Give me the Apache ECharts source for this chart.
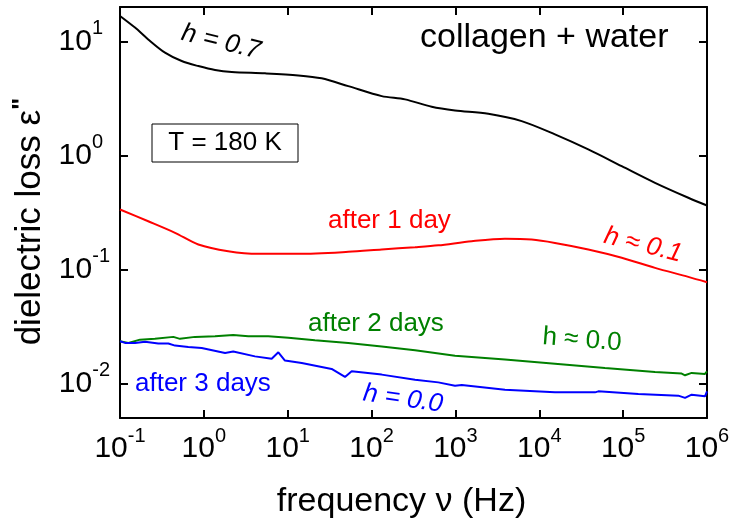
<!DOCTYPE html>
<html><head><meta charset="utf-8">
<script src="https://cdn.jsdelivr.net/npm/echarts@6/dist/echarts.min.js"></script>
<style>html,body{margin:0;padding:0;background:#fff}#c{width:733px;height:526px}</style>
</head><body><div id="c"></div>
<script>
const FONT = '"Liberation Sans", Arial, Helvetica, sans-serif';

// ---- data (frequency in Hz, dielectric loss) ----
const freqBlack = [0.1, 0.151, 0.217, 0.344, 0.544, 0.859, 1.36, 2.15, 5.36, 13.4, 25.4, 52.7, 132, 251, 521, 989, 2466, 6166, 15380, 38370, 96160, 239900, 598400, 1e6];
const lossBlack = [16.7, 13.2, 10.4, 7.96, 6.72, 6.07, 5.60, 5.38, 5.24, 5.03, 4.74, 4.05, 3.31, 3.10, 2.67, 2.48, 2.32, 2.00, 1.53, 1.13, 0.806, 0.576, 0.426, 0.364];

const freqRed = [0.1, 0.217, 0.453, 0.859, 1.95, 4.46, 13.4, 52.7, 132, 330, 625, 1563, 3899, 8110, 15380, 38370, 96160, 239900, 598400, 1e6];
const lossRed = [0.336, 0.265, 0.210, 0.166, 0.145, 0.1375, 0.1375, 0.143, 0.150, 0.157, 0.163, 0.177, 0.186, 0.183, 0.171, 0.150, 0.127, 0.1035, 0.0863, 0.0774];

const freqGreen = [0.1, 0.126, 0.173, 0.261, 0.433, 0.519, 0.783, 1.36, 2.24, 3.39, 5.86, 10.2, 21.1, 52.7, 132, 330, 989, 3899, 15380, 60670, 239900, 498900, 547000, 656100, 946200, 1e6];
const lossGreen = [0.0235, 0.02275, 0.0243, 0.0247, 0.0257, 0.0247, 0.0257, 0.0260, 0.0267, 0.0260, 0.0260, 0.0252, 0.0240, 0.02275, 0.0212, 0.0196, 0.0176, 0.01625, 0.01497, 0.01374, 0.01268, 0.01225, 0.01184, 0.01242, 0.01216, 0.01282];

const freqBlue = [0.1, 0.115, 0.151, 0.199, 0.286, 0.377, 0.453, 0.652, 0.942, 1.79, 2.24, 4.07, 6.44, 7.73, 9.27, 14.7, 33.4, 48.2, 57.9, 132, 330, 625, 989, 1190, 3899, 15380, 46130, 50580, 151700, 455000, 547000, 656100, 946200, 1e6];
const lossBlue = [0.0235, 0.02275, 0.02275, 0.0233, 0.02245, 0.02245, 0.02155, 0.0210, 0.02057, 0.01858, 0.0191, 0.01734, 0.01655, 0.01884, 0.01592, 0.0152, 0.01346, 0.01146, 0.01282, 0.0120, 0.01084, 0.01026, 0.0096, 0.00975, 0.00886, 0.00839, 0.00839, 0.00856, 0.00812, 0.00785, 0.0075, 0.00801, 0.00774, 0.00856];

const xRange = [0.1, 1e6];
const yRange = [0.005, 20];

// ---- helpers ----
function pairs(xs, ys) { return xs.map((x, i) => [x, ys[i]]); }
function exponentOf(v) {
  const e = Math.log10(v);
  const r = Math.round(e);
  return Math.abs(e - r) > 1e-6 ? null : r;
}
function powLabelX(v) {
  const r = exponentOf(v);
  return r === null ? '' : '{b|10}{s|' + r + '}';
}
function powLabelY(v) {
  const r = exponentOf(v);
  if (r === null) return '';
  return '{b|10}{s|' + r + '}' + (r >= 0 ? '{g|\u00a0}' : '');
}
const richLbl = {
  b: { fontSize: 30, fontFamily: FONT, color: '#000', lineHeight: 46 },
  s: { fontSize: 20, fontFamily: FONT, color: '#000', lineHeight: 6, verticalAlign: 'top' },
  g: { fontSize: 20, fontFamily: FONT, color: '#000', lineHeight: 6, width: 7, verticalAlign: 'top' }
};
const axLine = { show: true, onZero: false, lineStyle: { color: '#000', width: 2 } };
const axTick = { show: true, inside: true, length: 8, lineStyle: { color: '#000', width: 2 } };

function lineSeries(xs, ys, color, smooth) {
  return {
    type: 'line', data: pairs(xs, ys), showSymbol: false, smooth: smooth ? 0.3 : false,
    lineStyle: { color: color, width: 2 }, itemStyle: { color: color }, z: 3
  };
}

const chart = echarts.init(document.getElementById('c'), null, { renderer: 'canvas' });
chart.setOption({
  animation: false,
  backgroundColor: '#fff',
  grid: { left: 120, top: 7, right: 26, bottom: 108, containLabel: false, outerBoundsMode: 'none' },
  xAxis: [
    {
      type: 'log', logBase: 10, min: xRange[0], max: xRange[1], position: 'bottom', splitNumber: 7,
      axisLine: axLine, axisTick: axTick, splitLine: { show: false }, minorTick: { show: false },
      axisLabel: { formatter: powLabelX, margin: 8, rich: richLbl, showMinLabel: true, showMaxLabel: true, hideOverlap: false },
      name: 'frequency ν (Hz)', nameLocation: 'middle', nameGap: 67,
      nameTextStyle: { fontSize: 34, fontFamily: FONT, color: '#000', padding: [0, 24, 0, 0] }
    },
    {
      type: 'log', logBase: 10, min: xRange[0], max: xRange[1], position: 'top', splitNumber: 7,
      axisLine: axLine, axisTick: axTick, splitLine: { show: false }, axisLabel: { show: false }
    }
  ],
  yAxis: [
    {
      type: 'log', logBase: 10, min: yRange[0], max: yRange[1], position: 'left', splitNumber: 4,
      axisLine: axLine, axisTick: axTick, splitLine: { show: false }, minorTick: { show: false },
      axisLabel: { formatter: powLabelY, margin: 10, rich: richLbl, showMinLabel: true, showMaxLabel: true, hideOverlap: false },
      name: '{t|dielectric loss ε}{p|"}', nameLocation: 'middle', nameGap: 61,
      nameTextStyle: {
        padding: [0, 18, 0, 0],
        rich: {
          t: { fontSize: 35, fontFamily: FONT, color: '#000', lineHeight: 40 },
          p: { fontSize: 26, fontFamily: FONT, fontWeight: 'bold', color: '#000', lineHeight: 10, verticalAlign: 'top' }
        }
      }
    },
    {
      type: 'log', logBase: 10, min: yRange[0], max: yRange[1], position: 'right', splitNumber: 4,
      axisLine: axLine, axisTick: axTick, splitLine: { show: false }, axisLabel: { show: false }
    }
  ],
  series: [
    lineSeries(freqBlack, lossBlack, '#000000', true),
    lineSeries(freqRed, lossRed, '#ff0000', true),
    lineSeries(freqGreen, lossGreen, '#008000', false),
    lineSeries(freqBlue, lossBlue, '#0000ff', false)
  ],
  graphic: [
    { type: 'text', x: 420, y: 38, z: 10, style: { text: 'collagen + water', fontSize: 34, fontFamily: FONT, fill: '#000', align: 'left', verticalAlign: 'middle' } },
    { type: 'text', x: 221, y: 42, rotation: -0.24, z: 10, style: { text: 'h = 0.7', fontSize: 26, fontStyle: 'italic', fontFamily: FONT, fill: '#000', align: 'center', verticalAlign: 'middle' } },
    { type: 'rect', z: 10, shape: { x: 152, y: 124, width: 146, height: 38 }, style: { fill: '#fff', stroke: '#000', lineWidth: 1 } },
    { type: 'text', x: 225, y: 143, z: 11, style: { text: 'T = 180 K', fontSize: 26, fontFamily: FONT, fill: '#000', align: 'center', verticalAlign: 'middle' } },
    { type: 'text', x: 328, y: 221, z: 10, style: { text: 'after 1 day', fontSize: 26, fontFamily: FONT, fill: '#ff0000', align: 'left', verticalAlign: 'middle' } },
    { type: 'text', x: 643, y: 245, rotation: -0.245, z: 10, style: { text: 'h ≈ 0.1', fontSize: 26, fontStyle: 'italic', fontFamily: FONT, fill: '#ff0000', align: 'center', verticalAlign: 'middle' } },
    { type: 'text', x: 308, y: 324, z: 10, style: { text: 'after 2 days', fontSize: 26, fontFamily: FONT, fill: '#008000', align: 'left', verticalAlign: 'middle' } },
    { type: 'text', x: 582, y: 340, rotation: -0.08, z: 10, style: { text: 'h ≈ 0.0', fontSize: 26, fontFamily: FONT, fill: '#008000', align: 'center', verticalAlign: 'middle' } },
    { type: 'text', x: 135, y: 384, z: 10, style: { text: 'after 3 days', fontSize: 26, fontFamily: FONT, fill: '#0000ff', align: 'left', verticalAlign: 'middle' } },
    { type: 'text', x: 403, y: 399, rotation: -0.145, z: 10, style: { text: 'h = 0.0', fontSize: 26, fontStyle: 'italic', fontFamily: FONT, fill: '#0000ff', align: 'center', verticalAlign: 'middle' } }
  ]
});
</script>
</body></html>
